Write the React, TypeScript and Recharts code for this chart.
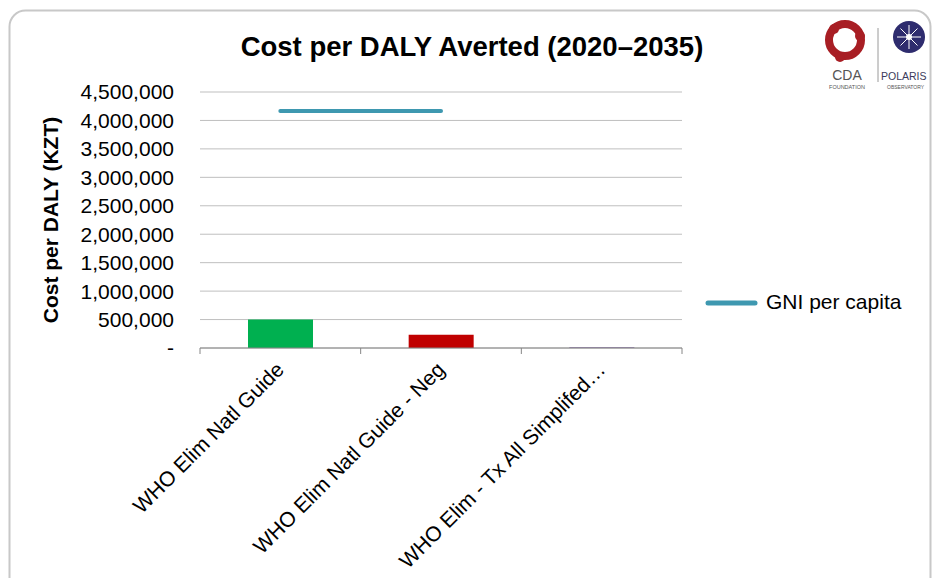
import React from "react";
import {
  ComposedChart,
  Bar,
  Line,
  Cell,
  XAxis,
  YAxis,
  CartesianGrid,
  Legend,
} from "recharts";

const categories = [
  "WHO Elim Natl Guide",
  "WHO Elim Natl Guide - Neg",
  "WHO Elim - Tx All Simplifed…",
];
const costPerDaly = [500000, 235000, 15000];
const gniPerCapita = [4165000, 4165000, null];
const barColors = ["#00B050", "#C00000", "#8064A2"];
const yTicks = [
  0, 500000, 1000000, 1500000, 2000000, 2500000, 3000000, 3500000, 4000000,
  4500000,
];

const FONT = '"Liberation Sans", Arial, sans-serif';

const data = categories.map((name, i) => ({
  name,
  cost: costPerDaly[i],
  gni: gniPerCapita[i],
}));

function XTick(props: any) {
  const { x, y, payload, index } = props;
  const half = payload?.offset ?? 80;
  const last = index === categories.length - 1;
  const tx = x + 5;
  const ty = y + 23;
  return (
    <g>
      <line x1={x - half} y1={y} x2={x - half} y2={y + 6} stroke="#868686" />
      {last && (
        <line x1={x + half} y1={y} x2={x + half} y2={y + 6} stroke="#868686" />
      )}
      <text
        x={tx}
        y={ty}
        transform={`rotate(-45 ${tx} ${ty})`}
        textAnchor="end"
        fontSize={21}
        fontFamily={FONT}
        fill="#000"
      >
        {payload.value}
      </text>
    </g>
  );
}

function GniLegend(props: any) {
  const items = (props.payload || []).filter((p: any) => p.type !== "none");
  return (
    <svg width={220} height={30} style={{ display: "block" }}>
      {items.map((p: any) => (
        <g key={p.value}>
          <line
            x1={8}
            y1={15}
            x2={55}
            y2={15}
            stroke={p.color}
            strokeWidth={5}
            strokeLinecap="round"
          />
          <text x={66} y={21} fontSize={21} fontFamily={FONT} fill="#000">
            {p.value}
          </text>
        </g>
      ))}
    </svg>
  );
}

function Logos() {
  return (
    <g>
      {/* CDA foundation mark */}
      <circle cx={845} cy={40} r={16} fill="none" stroke="#A81E24" strokeWidth={8} />
      <circle cx={845} cy={40} r={7} fill="#fff" />
      <path d="M838 30 L846 41 M852 33 L844 44 M840 48 L848 38" stroke="#fff" strokeWidth={2} />
      <circle cx={834} cy={29} r={5} fill="#A81E24" />
      <circle cx={860} cy={36} r={5} fill="#A81E24" />
      <circle cx={840} cy={57} r={5} fill="#A81E24" />
      <text x={847} y={80} textAnchor="middle" fontSize={14} fontFamily={FONT} fill="#555">
        CDA
      </text>
      <text x={847} y={89} textAnchor="middle" fontSize={5.5} fontFamily={FONT} fill="#555">
        FOUNDATION
      </text>
      <line x1={878} y1={28} x2={878} y2={82} stroke="#9a9a9a" strokeWidth={1} />
      {/* Polaris mark */}
      <circle cx={909} cy={37} r={16} fill="#2E2C6E" />
      <path
        d="M909 25 L909 49 M897 37 L921 37 M900.5 28.5 L917.5 45.5 M917.5 28.5 L900.5 45.5"
        stroke="#fff"
        strokeWidth={1}
      />
      <circle cx={909} cy={37} r={3} fill="#fff" />
      <text x={881} y={80} fontSize={10.5} fontFamily={FONT} fill="#3b3b5c">
        POLARIS
      </text>
      <text x={887} y={89} fontSize={5} fontFamily={FONT} fill="#555">
        OBSERVATORY
      </text>
    </g>
  );
}

export default function App() {
  return (
    <div
      style={{
        position: "absolute",
        left: 0,
        top: 0,
        width: 932,
        height: 578,
        background: "#fff",
        overflow: "hidden",
      }}
    >
      <svg
        width={932}
        height={578}
        style={{ position: "absolute", left: 0, top: 0 }}
      >
        <rect
          x={9.5}
          y={10.5}
          width={921}
          height={620}
          rx={16}
          fill="#fff"
          stroke="#c8c8c8"
          strokeWidth={2}
        />
        <text
          x={472}
          y={56}
          textAnchor="middle"
          fontSize={27.5}
          fontWeight="bold"
          fontFamily={FONT}
          fill="#000"
        >
          Cost per DALY Averted (2020–2035)
        </text>
        <Logos />
      </svg>
      <div style={{ position: "absolute", left: 0, top: 0 }}>
        <ComposedChart
          width={932}
          height={578}
          data={data}
          margin={{ top: 92, right: 250, bottom: 0, left: 0 }}
        >
          <CartesianGrid vertical={false} stroke="#bfbfbf" />
          <XAxis
            dataKey="name"
            interval={0}
            height={230}
            tickSize={0}
            tickMargin={0}
            tickLine={false}
            axisLine={{ stroke: "#868686" }}
            tick={<XTick />}
          />
          <YAxis
            type="number"
            domain={[0, 4500000]}
            ticks={yTicks}
            interval={0}
            width={200}
            tickSize={0}
            tickMargin={26}
            axisLine={false}
            tickLine={false}
            tick={{ fontSize: 21, fill: "#000", fontFamily: FONT }}
            tickFormatter={(v: number) => (v === 0 ? "-" : v.toLocaleString("en-US"))}
            label={{
              content: () => (
                <text
                  x={58}
                  y={220}
                  transform="rotate(-90 58 220)"
                  textAnchor="middle"
                  fontSize={21}
                  fontWeight="bold"
                  fontFamily={FONT}
                  fill="#000"
                >
                  Cost per DALY (KZT)
                </text>
              ),
            }}
          />
          <Legend
            content={<GniLegend />}
            wrapperStyle={{
              position: "absolute",
              left: 700,
              top: 288,
              width: 220,
              height: 0,
              overflow: "visible",
            }}
          />
          <Bar
            dataKey="cost"
            name="Cost per DALY"
            barSize={65}
            legendType="none"
            isAnimationActive={false}
          >
            {data.map((d, i) => (
              <Cell key={d.name} fill={barColors[i]} />
            ))}
          </Bar>
          <Line
            dataKey="gni"
            name="GNI per capita"
            type="linear"
            stroke="#3E98B0"
            strokeWidth={4}
            strokeLinecap="round"
            dot={false}
            activeDot={false}
            connectNulls={false}
            isAnimationActive={false}
          />
        </ComposedChart>
      </div>
    </div>
  );
}
